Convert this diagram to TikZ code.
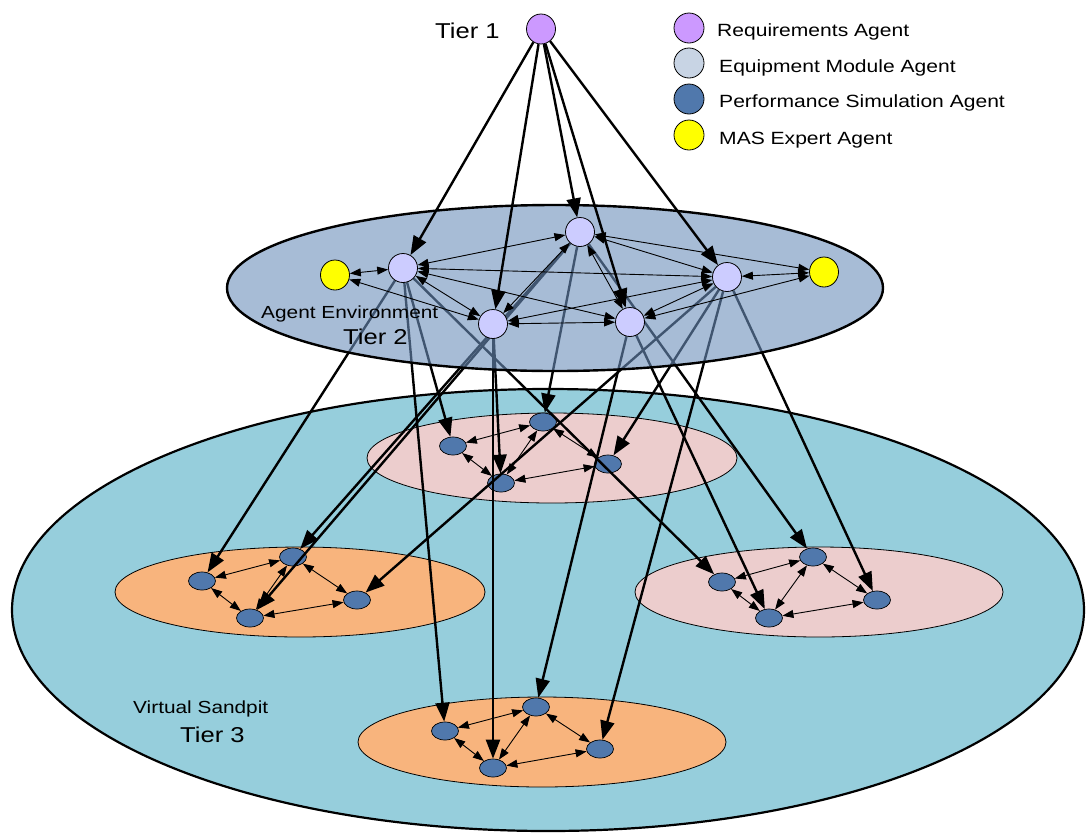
\documentclass[tikz,border=0pt]{standalone}
\usepackage{fontspec}
\setmainfont{Liberation Sans}
\usetikzlibrary{arrows.meta,shapes.geometric}
\pgfdeclarelayer{lbg}
\pgfdeclarelayer{lnodes}
\pgfdeclarelayer{llines}
\pgfdeclarelayer{lveil}
\pgfsetlayers{lbg,lnodes,llines,lveil,main}
\definecolor{sandpit}{RGB}{150,206,220}
\definecolor{pinkfill}{RGB}{236,205,205}
\definecolor{orangefill}{RGB}{248,180,125}
\definecolor{psablue}{RGB}{80,120,172}
\definecolor{eqfill}{RGB}{204,204,255}
\definecolor{eqlegend}{RGB}{200,212,228}
\definecolor{reqfill}{RGB}{204,153,255}
\definecolor{masyellow}{RGB}{255,255,0}
\definecolor{veil}{RGB}{108,143,187}
\newcommand{\lab}[2]{\fontsize{#1}{#1}\selectfont\scalebox{1.19}[1]{#2}}
\begin{document}
\begin{tikzpicture}[x=1pt,y=-1pt,
  psa/.style={ellipse, draw, line width=0.7pt, fill=psablue, minimum width=27pt, minimum height=18pt, inner sep=0pt},
  eqa/.style={circle, draw, line width=0.8pt, fill=eqfill, minimum size=29pt, inner sep=0pt},
  mas/.style={ellipse, draw, line width=0.8pt, fill=masyellow, minimum width=29pt, minimum height=30pt, inner sep=0pt},
  legc/.style={circle, draw, line width=0.8pt, minimum size=30pt, inner sep=0pt},
  bi/.style={line width=0.9pt, {Triangle[length=11pt,width=8pt]}-{Triangle[length=11pt,width=8pt]}},
  down/.style={line width=2.4pt, -{Triangle[length=19pt,width=14pt]}},
  txt/.style={anchor=base west, inner sep=0pt}]
\useasboundingbox (0,0) rectangle (1086,833);

% ---------- Tier 1 ----------
\node[ellipse, draw, line width=0.8pt, fill=reqfill, minimum width=29pt, minimum height=30pt, inner sep=0pt] (R) at (541,29) {};
\node[txt] (t1) at (435,38.3) {\lab{21.5}{Tier 1}};

% ---------- Legend ----------
\node[legc, fill=reqfill] (lg1) at (689,28) {};
\node[legc, fill=eqlegend] (lg2) at (689,63) {};
\node[legc, fill=psablue] (lg3) at (689,99) {};
\node[legc, fill=masyellow] (lg4) at (689,135) {};
\node[txt] (lt1) at (717,36) {\lab{17.7}{Requirements Agent}};
\node[txt] (lt2) at (719,72.7) {\lab{17.7}{Equipment Module Agent}};
\node[txt] (lt3) at (719,107.7) {\lab{17.7}{Performance Simulation Agent}};
\node[txt] (lt4) at (719,144.3) {\lab{17.7}{MAS Expert Agent}};

% ---------- Tier 2 agents ----------
\node[eqa] (e1) at (403,268) {};
\node[eqa] (e2) at (580,232) {};
\node[eqa] (e3) at (727,277) {};
\node[eqa] (e4) at (493,324) {};
\node[eqa] (e5) at (630,322) {};
\node[mas] (y1) at (335,275) {};
\node[mas] (y2) at (824,272) {};
\node[txt] (ae) at (261,318.3) {\lab{17.5}{Agent Environment}};
\node[txt] (t2) at (343,344) {\lab{21.5}{Tier 2}};

% ---------- Tier 3 background ----------
\begin{pgfonlayer}{lbg}
\draw[line width=2.2pt, fill=sandpit] (548,610) ellipse [x radius=536pt, y radius=221pt];
\draw[line width=0.8pt, fill=pinkfill] (552,458) ellipse [x radius=185pt, y radius=45pt];
\draw[line width=0.8pt, fill=orangefill] (300,592) ellipse [x radius=185pt, y radius=45pt];
\draw[line width=0.8pt, fill=pinkfill] (819,592) ellipse [x radius=184pt, y radius=45pt];
\draw[line width=0.8pt, fill=orangefill] (542,742) ellipse [x radius=184pt, y radius=45pt];
\end{pgfonlayer}

\node[txt] (vs) at (133,713) {\lab{17.5}{Virtual Sandpit}};
\node[txt] (t3) at (180,742) {\lab{21.5}{Tier 3}};

% ---------- Tier 3 agents ----------
\begin{pgfonlayer}{lnodes}
\node[psa] (a1) at (453,446) {};
\node[psa] (a2) at (543,422) {};
\node[psa] (a3) at (608,464) {};
\node[psa] (a4) at (501,483) {};
\node[psa] (b1) at (202,581) {};
\node[psa] (b2) at (293,557) {};
\node[psa] (b3) at (357,600) {};
\node[psa] (b4) at (250,618) {};
\node[psa] (c1) at (722,582) {};
\node[psa] (c2) at (813,557) {};
\node[psa] (c3) at (877,600) {};
\node[psa] (c4) at (769,618) {};
\node[psa] (d1) at (445,731) {};
\node[psa] (d2) at (536,707) {};
\node[psa] (d3) at (600,749) {};
\node[psa] (d4) at (493,768) {};
\foreach \k in {a,b,c,d}{
  \draw[bi] (\k1) -- (\k2);
  \draw[bi] (\k2) -- (\k3);
  \draw[bi] (\k1) -- (\k4);
  \draw[bi] (\k2) -- (\k4);
  \draw[bi] (\k4) -- (\k3);
}
\end{pgfonlayer}

% ---------- Tier 2 -> Tier 3 ----------
\begin{pgfonlayer}{llines}
\draw[down] (e1) -- (a1);
\draw[down] (e1) -- (b1);
\draw[down] (e1) -- (c1);
\draw[down] (e1) -- (d1);
\draw[down] (e2) -- (a2);
\draw[down] (e2) -- (b2);
\draw[down] (e2) -- (b4);
\draw[down] (e2) -- (c2);
\draw[down] (e3) -- (a3);
\draw[down] (e3) -- (b3);
\draw[down] (e3) -- (c3);
\draw[down] (e3) -- (d3);
\draw[down] (e4) -- (a4);
\draw[down] (e4) -- (d4);
\draw[down] (e5) -- (c4);
\draw[down] (e5) -- (d2);
\end{pgfonlayer}

% ---------- Tier 2 environment (veil) ----------
\begin{pgfonlayer}{lveil}
\fill[veil, fill opacity=0.6] (555,288) ellipse [x radius=328pt, y radius=83pt];
\draw[line width=2.4pt] (555,288) ellipse [x radius=328pt, y radius=83pt];
\end{pgfonlayer}

% ---------- Tier 2 interactions ----------
\draw[bi] (y1) -- (e1);
\draw[bi] (y1) -- (e4);
\draw[bi] (e1) -- (e2);
\draw[bi] (e1) -- (e3);
\draw[bi] (e1) -- (e5);
\draw[bi] (e1) -- (e4);
\draw[bi] (e2) -- (e4);
\draw[bi] (e2) -- (e5);
\draw[bi] (e2) -- (e3);
\draw[bi] (e2) -- (y2);
\draw[bi] (e4) -- (e5);
\draw[bi] (e4) -- (e3);
\draw[bi] (e5) -- (e3);
\draw[bi] (e5) -- (y2);
\draw[bi] (e3) -- (y2);

% ---------- Tier 1 -> Tier 2 ----------
\draw[down] (R) -- (e1);
\draw[down] (R) -- (e4);
\draw[down] (R) -- (e2);
\draw[down] (R) -- (e5);
\draw[down] (R) -- (e3);
\end{tikzpicture}
\end{document}
